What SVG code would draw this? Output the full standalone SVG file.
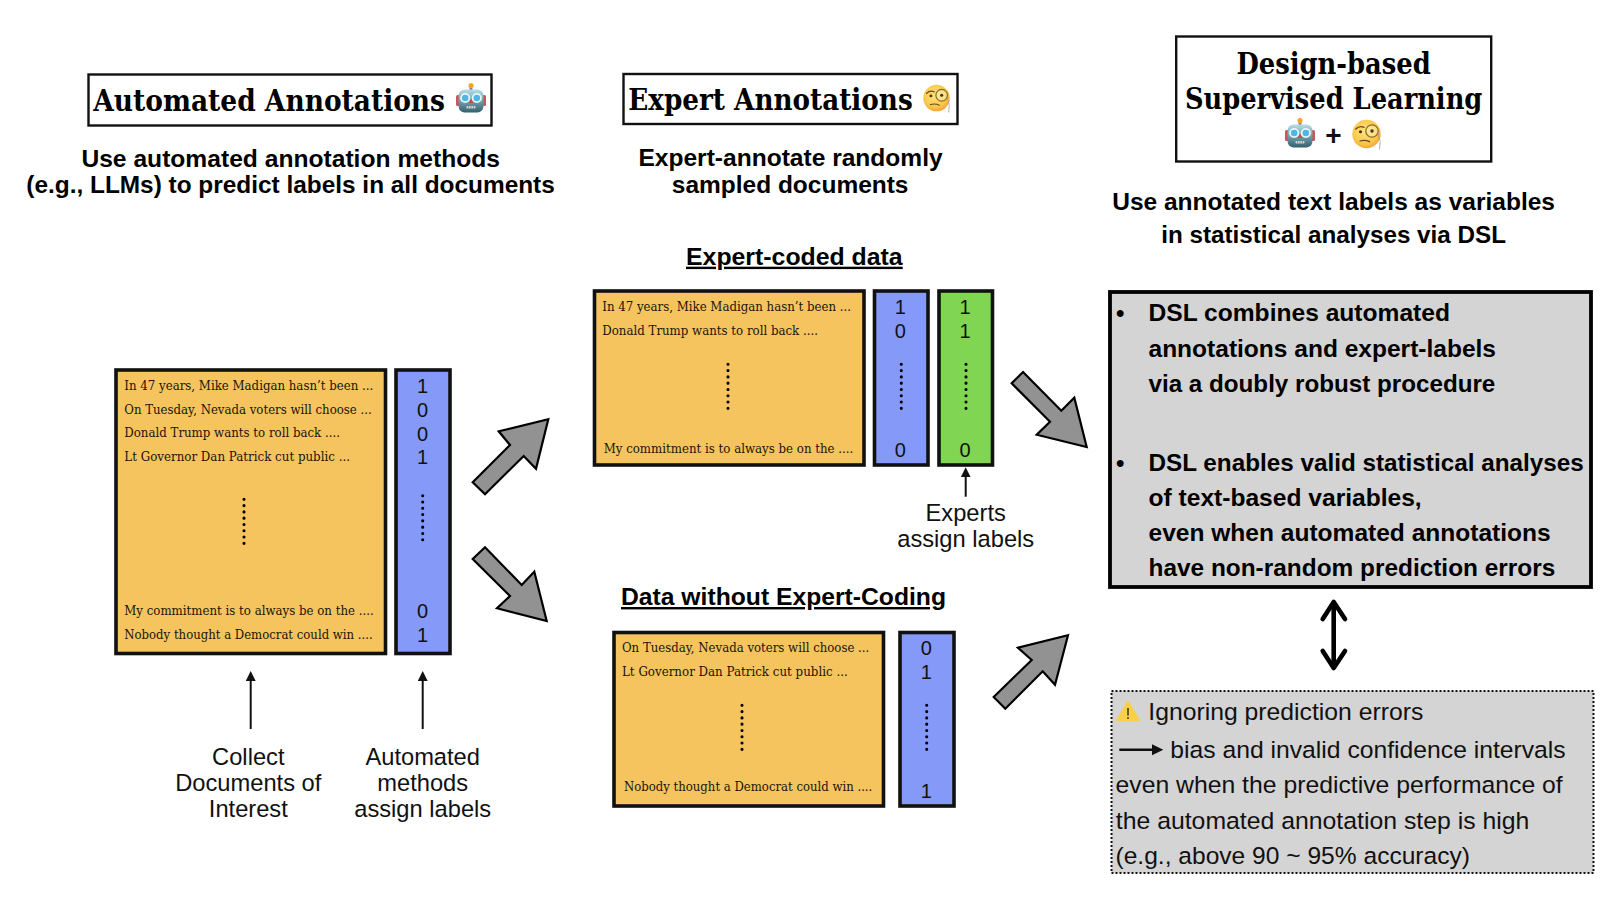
<svg xmlns="http://www.w3.org/2000/svg" xmlns:xlink="http://www.w3.org/1999/xlink" width="1616" height="908" viewBox="0 0 1616 908">
<style>
text{fill:#000}
.t{font-family:"DejaVu Serif",serif;font-stretch:condensed;font-weight:700;font-size:29.5px}
.h{font-family:"Liberation Sans",Arial,sans-serif;font-weight:700;font-size:24px}
.u{text-decoration:underline}
.l{font-family:"Liberation Sans",Arial,sans-serif;font-size:23.7px;fill:#111}
.c{text-anchor:middle}
.d{font-family:"DejaVu Serif",serif;font-size:12px;fill:#1a1408}
.n{font-family:"Liberation Sans",Arial,sans-serif;font-size:20px;text-anchor:middle;fill:#111}
.box{fill:#fff;stroke:#111;stroke-width:2.4}
.org{fill:#f5c45e;stroke:#111;stroke-width:3.6}
.blu{fill:#8599f8;stroke:#111;stroke-width:3.6}
.grn{fill:#80d552;stroke:#111;stroke-width:3.6}
.dots{fill:none;stroke:#000;stroke-width:3.1;stroke-linecap:round;stroke-dasharray:0 6.29}
.big{fill:#929292;stroke:#000;stroke-width:2.2;stroke-linejoin:miter}
.sm{fill:none;stroke:#111;stroke-width:2;marker-end:url(#tip)}
</style>
<defs>
<marker id="tip" viewBox="0 0 10 10" refX="7" refY="5" markerWidth="10" markerHeight="10" markerUnits="userSpaceOnUse" orient="auto"><path d="M0 0L10 5L0 10Z" fill="#111"/></marker>
<linearGradient id="rg" x1="0" y1="0" x2="0" y2="1"><stop offset="0" stop-color="#b5dfe6"/><stop offset="1" stop-color="#34606f"/></linearGradient>
<radialGradient id="fg" cx=".45" cy=".4" r=".65"><stop offset="0" stop-color="#fde583"/><stop offset=".7" stop-color="#f9c648"/><stop offset="1" stop-color="#ee9a32"/></radialGradient>
<symbol id="robot" viewBox="0 0 30 30" overflow="visible">
<rect x="0" y="12" width="5" height="11" rx="1.5" fill="#c9565c"/><rect x="25" y="12" width="5" height="11" rx="1.5" fill="#c9565c"/>
<rect x="13.6" y="3" width="2.8" height="5" fill="#7b6fb0"/><circle cx="15" cy="2.6" r="2.6" fill="#f5a623"/>
<rect x="2.6" y="6.5" width="24.8" height="23" rx="6" fill="url(#rg)"/>
<circle cx="9.2" cy="15" r="4.2" fill="#4fb6e6" stroke="#e8f7fb" stroke-width="1.8"/><circle cx="20.8" cy="15" r="4.2" fill="#4fb6e6" stroke="#e8f7fb" stroke-width="1.8"/>
<path d="M15 15.5L17.2 20H12.8Z" fill="#d9443f"/>
<rect x="10.5" y="23" width="9" height="2.6" rx=".8" fill="#cfd5d6"/><path d="M12.5 23v2.6M15 23v2.6M17.5 23v2.6" stroke="#556" stroke-width=".5"/>
</symbol>
<symbol id="mono" viewBox="0 0 30 30" overflow="visible">
<circle cx="14.5" cy="14.5" r="14.2" fill="url(#fg)"/>
<path d="M3.8 9.5Q7.5 5.8 12 7.8" fill="none" stroke="#6b4a1e" stroke-width="1.4" stroke-linecap="round"/>
<ellipse cx="8.5" cy="12.2" rx="1.6" ry="1.5" fill="#4a3416"/>
<circle cx="20" cy="11.5" r="6.2" fill="#fbe9a6" fill-opacity=".65" stroke="#8f6c24" stroke-width="1.3"/><circle cx="20" cy="11.5" r="1.7" fill="#4a3416"/>
<path d="M8 21.5Q13 20 17.5 22.2" fill="none" stroke="#6b4a1e" stroke-width="1.3" stroke-linecap="round"/>
<path d="M26 13.5Q29.5 22 27.5 30" fill="none" stroke="#9a9a9a" stroke-width=".8"/>
</symbol>
</defs>

<rect width="1616" height="908" fill="#fff"/>

<g id="title-automated">
<rect class="box" x="88.5" y="74.5" width="403" height="51"/>
<text class="t" x="93.3" y="110.8" textLength="351.7" lengthAdjust="spacingAndGlyphs">Automated Annotations</text>
<use href="#robot" xlink:href="#robot" x="456" y="83" width="30" height="30"/>
<text class="h" x="81.4" y="166.6" textLength="418.6" lengthAdjust="spacingAndGlyphs">Use automated annotation methods</text>
<text class="h" x="26.3" y="192.6" textLength="528.5" lengthAdjust="spacingAndGlyphs">(e.g., LLMs) to predict labels in all documents</text>
</g>

<g id="title-expert">
<rect class="box" x="623.5" y="74" width="334" height="50"/>
<text class="t" x="628.3" y="109.8" textLength="284.4" lengthAdjust="spacingAndGlyphs">Expert Annotations</text>
<use href="#mono" xlink:href="#mono" x="923" y="84.5" width="28" height="28"/>
<text class="h" x="638.4" y="166" textLength="304.3" lengthAdjust="spacingAndGlyphs">Expert-annotate randomly</text>
<text class="h" x="671.8" y="192.6" textLength="236.7" lengthAdjust="spacingAndGlyphs">sampled documents</text>
</g>

<g id="title-dsl">
<rect class="box" x="1176.2" y="36.5" width="315" height="125"/>
<text class="t" x="1236.5" y="73.5" textLength="194.2" lengthAdjust="spacingAndGlyphs">Design-based</text>
<text class="t" x="1185" y="109.3" textLength="297.3" lengthAdjust="spacingAndGlyphs">Supervised Learning</text>
<use href="#robot" xlink:href="#robot" x="1285" y="118" width="30" height="30"/>
<text class="l c" x="1333.5" y="144.5" style="font-size:28px;font-weight:700">+</text>
<use href="#mono" xlink:href="#mono" x="1352" y="119.5" width="30" height="30"/>
<text class="h" x="1112.2" y="210.3" textLength="442.8" lengthAdjust="spacingAndGlyphs">Use annotated text labels as variables</text>
<text class="h" x="1161.2" y="243" textLength="344.8" lengthAdjust="spacingAndGlyphs">in statistical analyses via DSL</text>
</g>

<g id="node-all-documents">
<rect class="org" x="116" y="370" width="269.5" height="283.5"/>
<text class="d" x="124.3" y="390" textLength="249" lengthAdjust="spacingAndGlyphs">In 47 years, Mike Madigan hasn’t been ...</text>
<text class="d" x="124.3" y="414" textLength="247.4" lengthAdjust="spacingAndGlyphs">On Tuesday, Nevada voters will choose ...</text>
<text class="d" x="124.3" y="437" textLength="215.7" lengthAdjust="spacingAndGlyphs">Donald Trump wants to roll back ....</text>
<text class="d" x="124.3" y="461" textLength="225.7" lengthAdjust="spacingAndGlyphs">Lt Governor Dan Patrick cut public ...</text>
<path class="dots" d="M244 499.3V543.6"/>
<text class="d" x="124.3" y="615" textLength="249.4" lengthAdjust="spacingAndGlyphs">My commitment is to always be on the ....</text>
<text class="d" x="124.3" y="639" textLength="248.4" lengthAdjust="spacingAndGlyphs">Nobody thought a Democrat could win ....</text>
</g>

<g id="node-all-labels">
<rect class="blu" x="396" y="370" width="54" height="283.5"/>
<text class="n" x="422.5" y="392.7">1</text>
<text class="n" x="422.5" y="416.7">0</text>
<text class="n" x="422.5" y="440.7">0</text>
<text class="n" x="422.5" y="464">1</text>
<path class="dots" d="M422.7 495.7V540"/>
<text class="n" x="422.5" y="617.7">0</text>
<text class="n" x="422.5" y="642">1</text>
</g>

<g id="node-expert-coded">
<text class="h u" x="686" y="264.7" textLength="216.7" lengthAdjust="spacingAndGlyphs">Expert-coded data</text>
<rect class="org" x="594.5" y="291" width="269.5" height="174"/>
<text class="d" x="602.3" y="311" textLength="248.7" lengthAdjust="spacingAndGlyphs">In 47 years, Mike Madigan hasn’t been ...</text>
<text class="d" x="602.3" y="335" textLength="215.7" lengthAdjust="spacingAndGlyphs">Donald Trump wants to roll back ....</text>
<path class="dots" d="M728 364.3V408.6"/>
<text class="d" x="603.7" y="453" textLength="249.6" lengthAdjust="spacingAndGlyphs">My commitment is to always be on the ....</text>
</g>

<g id="node-expert-auto-labels">
<rect class="blu" x="874.5" y="291" width="53.5" height="174"/>
<text class="n" x="900.3" y="313.7">1</text>
<text class="n" x="900.3" y="337.7">0</text>
<path class="dots" d="M901.3 364.3V408.6"/>
<text class="n" x="900.3" y="456.7">0</text>
</g>

<g id="node-expert-labels">
<rect class="grn" x="939" y="291" width="53.5" height="174"/>
<text class="n" x="965" y="313.7">1</text>
<text class="n" x="965" y="337.7">1</text>
<path class="dots" d="M966 364.3V408.6"/>
<text class="n" x="965" y="456.7">0</text>
</g>

<g id="node-without-expert">
<text class="h u" x="621" y="605" textLength="325" lengthAdjust="spacingAndGlyphs">Data without Expert-Coding</text>
<rect class="org" x="614" y="632.5" width="269.5" height="173.5"/>
<text class="d" x="622" y="652" textLength="247.3" lengthAdjust="spacingAndGlyphs">On Tuesday, Nevada voters will choose ...</text>
<text class="d" x="622" y="676" textLength="225.7" lengthAdjust="spacingAndGlyphs">Lt Governor Dan Patrick cut public ...</text>
<path class="dots" d="M742 705.3V749.6"/>
<text class="d" x="624" y="790.7" textLength="248.3" lengthAdjust="spacingAndGlyphs">Nobody thought a Democrat could win ....</text>
</g>

<g id="node-without-labels">
<rect class="blu" x="900" y="632.5" width="54" height="173.5"/>
<text class="n" x="926.3" y="655.2">0</text>
<text class="n" x="926.3" y="679">1</text>
<path class="dots" d="M926.7 705.3V749.6"/>
<text class="n" x="926.3" y="797.8">1</text>
</g>

<g id="node-dsl">
<rect x="1110" y="292" width="481" height="295" fill="#d4d4d4" stroke="#000" stroke-width="3.8"/>
<text class="h" x="1116" y="320.7">•</text>
<text class="h" x="1148.5" y="320.7" textLength="301.5" lengthAdjust="spacingAndGlyphs">DSL combines automated</text>
<text class="h" x="1148.5" y="356.8" textLength="347.5" lengthAdjust="spacingAndGlyphs">annotations and expert-labels</text>
<text class="h" x="1148.5" y="391.7" textLength="346.8" lengthAdjust="spacingAndGlyphs">via a doubly robust procedure</text>
<text class="h" x="1116" y="470.8">•</text>
<text class="h" x="1148.5" y="470.8" textLength="435.2" lengthAdjust="spacingAndGlyphs">DSL enables valid statistical analyses</text>
<text class="h" x="1148.5" y="506" textLength="273.2" lengthAdjust="spacingAndGlyphs">of text-based variables,</text>
<text class="h" x="1148.5" y="540.7" textLength="402.2" lengthAdjust="spacingAndGlyphs">even when automated annotations</text>
<text class="h" x="1148.5" y="576" textLength="406.8" lengthAdjust="spacingAndGlyphs">have non-random prediction errors</text>
</g>

<g id="node-warning">
<rect x="1111.5" y="691" width="482" height="182" fill="#d4d4d4" stroke="#111" stroke-width="2" stroke-dasharray="2 2"/>
<path d="M1128 702L1138.5 720H1117.5Z" fill="#f8cf47" stroke="#f8cf47" stroke-width="2.4" stroke-linejoin="round"/>
<path d="M1128 708V715.5" stroke="#333" stroke-width="1.5"/><circle cx="1128" cy="718" r=".9" fill="#333"/>
<text class="l" x="1148.3" y="720" textLength="275" lengthAdjust="spacingAndGlyphs">Ignoring prediction errors</text>
<path d="M1119.3 749.8H1156" fill="none" stroke="#111" stroke-width="2.4"/><path d="M1152 744.3L1163.3 749.8L1152 755.3Z" fill="#111"/>
<text class="l" x="1170.3" y="758" textLength="395.4" lengthAdjust="spacingAndGlyphs">bias and invalid confidence intervals</text>
<text class="l" x="1115.5" y="793" textLength="447.2" lengthAdjust="spacingAndGlyphs">even when the predictive performance of</text>
<text class="l" x="1115.8" y="829" textLength="413.5" lengthAdjust="spacingAndGlyphs">the automated annotation step is high</text>
<text class="l" x="1115.5" y="864" textLength="354.5" lengthAdjust="spacingAndGlyphs">(e.g., above 90 ~ 95% accuracy)</text>
</g>

<g id="label-collect">
<text class="l c" x="248.3" y="765">Collect</text>
<text class="l c" x="248.3" y="790.7">Documents of</text>
<text class="l c" x="248.3" y="816.7">Interest</text>
</g>
<g id="label-automated">
<text class="l c" x="422.7" y="765">Automated</text>
<text class="l c" x="422.7" y="790.7">methods</text>
<text class="l c" x="422.7" y="816.7">assign labels</text>
</g>
<g id="label-experts">
<text class="l c" x="965.7" y="521">Experts</text>
<text class="l c" x="965.7" y="547">assign labels</text>
</g>

<g id="connectors">
<polygon class="big" points="472.7,482.3 510,445 498.7,431.3 548.3,419.3 536,468.7 523.7,456 485,494.3"/>
<polygon class="big" points="485,547.3 521.7,585 534.3,571.7 546.7,621 497,608.3 510,596 472.7,559"/>
<polygon class="big" points="1023,372 1061.3,410.7 1074.3,397.7 1086.7,447 1036.7,434.7 1050,421.7 1011.7,383.3"/>
<polygon class="big" points="993.7,697 1031.7,660 1018,647.7 1068,635.3 1055,684.7 1042.7,671.3 1005.3,708.7"/>
<path class="sm" d="M250.7 729V674"/>
<path class="sm" d="M422.7 729V674"/>
<path class="sm" d="M965.7 496.7V470.3"/>
<path d="M1333.7 603V667" fill="none" stroke="#000" stroke-width="4.6"/>
<path d="M1322.7 619L1333.7 602L1345 619M1322.7 651L1333.7 668L1345 651" fill="none" stroke="#000" stroke-width="4.6" stroke-linecap="round" stroke-linejoin="round"/>
</g>
</svg>
